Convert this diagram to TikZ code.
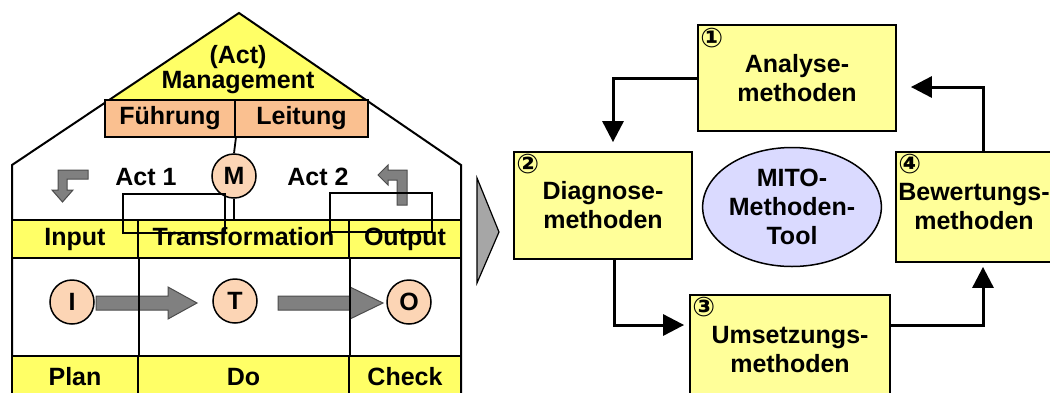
\documentclass[tikz,border=0pt]{standalone}
\usepackage{fontspec}
\setmainfont{Liberation Sans}
\newfontfamily\symfont{DejaVu Sans}
\usetikzlibrary{arrows.meta,shapes.geometric}

\definecolor{bandyellow}{RGB}{255,255,102}
\definecolor{boxyellow}{RGB}{255,255,153}
\definecolor{leadpeach}{RGB}{250,192,144}
\definecolor{circpeach}{RGB}{252,213,181}
\definecolor{toolblue}{RGB}{218,218,255}
\definecolor{arrowgray}{RGB}{128,128,128}
\definecolor{chevgray}{RGB}{166,166,166}

\newcommand\mitofont{\fontsize{25}{29}\selectfont\bfseries}
\newcommand\numfont{\symfont\fontsize{27}{27}\selectfont\bfseries}

\begin{document}
\begin{tikzpicture}[x=1pt,y=-1pt,
    methbox/.style={draw,line width=1.8pt,fill=boxyellow,align=center,font=\mitofont,inner sep=0pt},
    cell/.style={draw,line width=1.8pt,fill=bandyellow,font=\mitofont,text height=17pt,text depth=5pt,inner sep=0pt},
    lead/.style={draw,line width=1.8pt,fill=leadpeach,font=\mitofont,text height=17pt,text depth=5pt,inner sep=0pt,minimum height=37pt},
    stage/.style={circle,draw,line width=1.5pt,fill=circpeach,minimum size=44pt,inner sep=0pt,font=\mitofont},
    num/.style={anchor=north west,inner sep=0pt,font=\numfont},
    flow/.style={line width=3pt,-{Triangle[length=21pt,width=21pt]}},
    grayarrow/.style={fill=arrowgray,draw=black!70,line width=1pt}]
        \useasboundingbox (0,0) rectangle (1050,392);

        % house: roof and walls
        \fill[bandyellow] (110,100) -- (239,13) -- (367,100) -- cycle;
        \draw[line width=2pt] (12,400) -- (12,165) -- (239,13) -- (461,165) -- (461,400);
        \node[font=\mitofont,align=center] (mgmt) at (238,70) {(Act)\\[-4pt]Management};
        \node[lead,minimum width=130pt] (fuehr) at (170,118.5) {Führung};
        \node[lead,minimum width=133pt] (leit) at (301.5,118.5) {Leitung};

        % process arrows
        \draw[grayarrow] (96,296) -- (168,296) -- (168,287) -- (197,303) -- (168,319) -- (168,310) -- (96,310) -- cycle;
        \draw[grayarrow] (278,296) -- (350,296) -- (350,287) -- (383,303) -- (350,319) -- (350,310) -- (278,310) -- cycle;

        % I - T - O table
        \node[cell,minimum width=126pt,minimum height=38pt] (input) at (75,239) {Input};
        \node[cell,minimum width=211pt,minimum height=38pt] (trans) at (243.5,239) {Transformation};
        \node[cell,minimum width=112pt,minimum height=38pt] (output) at (405,239) {Output};
        \node[cell,minimum width=126pt,minimum height=46pt] (plan) at (75,379) {Plan};
        \node[cell,minimum width=211pt,minimum height=46pt] (do) at (243.5,379) {Do};
        \node[cell,minimum width=112pt,minimum height=46pt] (check) at (405,379) {Check};
        \draw[line width=1.8pt] (input.south east) -- (plan.north east);
        \draw[line width=1.8pt] (trans.south east) -- (do.north east);

        \node[stage] (i) at (72,302) {I};
        \node[stage] (t) at (235,301) {T};
        \node[stage] (o) at (409,302) {O};

        % management and the two act loops
        \node[stage] (m) at (234,176) {M};
        \coordinate (mfoot) at (234,220);
        \draw[line width=1.8pt] (fuehr.south east) -- (m.north);
        \draw[line width=1.8pt] (m.south) -- (mfoot);
        \node[font=\mitofont] (act1) at (146,177) {Act 1};
        \node[font=\mitofont] (act2) at (318,177) {Act 2};
        \draw[grayarrow] (88,170) -- (88,179) -- (67,179) -- (67,190) -- (73,190) -- (62.5,202) -- (52,190) -- (58,190) -- (58,170) -- cycle;
        \draw[grayarrow] (397,205) -- (407,205) -- (407,170) -- (388,170) -- (388,165) -- (378,175) -- (388,185) -- (388,180) -- (397,180) -- cycle;
        \draw[line width=1.6pt] (123,194) rectangle (225,233);
        \draw[line width=1.6pt] (330,193) rectangle (432,232);

        \draw[fill=chevgray,line width=1.2pt] (477,178) -- (499,232) -- (477,283) -- cycle;

        % MITO method cycle
        \node[methbox,minimum width=198pt,minimum height=106pt] (ana) at (797,78) {Analyse-\\methoden};
        \node[methbox,minimum width=178pt,minimum height=107pt] (diag) at (603,205.5) {Diagnose-\\methoden};
        \node[methbox,minimum width=200pt,minimum height=110pt] (umset) at (790,350) {Umsetzungs-\\methoden};
        \node[methbox,minimum width=156pt,minimum height=110pt] (bewert) at (974,207) {Bewertungs-\\methoden};
        \node[ellipse,draw,line width=1.5pt,fill=toolblue,minimum width=174pt,minimum height=119pt,inner sep=0pt,align=center,font=\mitofont] (tool) at (792,207) {MITO-\\Methoden-\\Tool};

        \node[num] (n1) at ([shift={(3pt,-4pt)}]ana.north west) {①};
        \node[num] (n2) at ([shift={(3pt,-3pt)}]diag.north west) {②};
        \node[num] (n3) at ([shift={(3pt,-3pt)}]umset.north west) {③};
        \node[num] (n4) at ([shift={(3pt,-3pt)}]bewert.north west) {④};

        \draw[flow,shorten >=9pt] (ana.west) -| ([xshift=10pt]diag.north);
        \draw[flow,shorten >=5pt] ([xshift=11pt]diag.south) |- ([yshift=25pt]umset.west);
        \draw[flow,shorten >=4pt] ([yshift=25pt]umset.east) -| ([xshift=9pt]bewert.south);
        \draw[flow,shorten >=14pt] ([xshift=9pt]bewert.north) |- ([yshift=-9pt]ana.east);
    \end{tikzpicture}
\end{document}
